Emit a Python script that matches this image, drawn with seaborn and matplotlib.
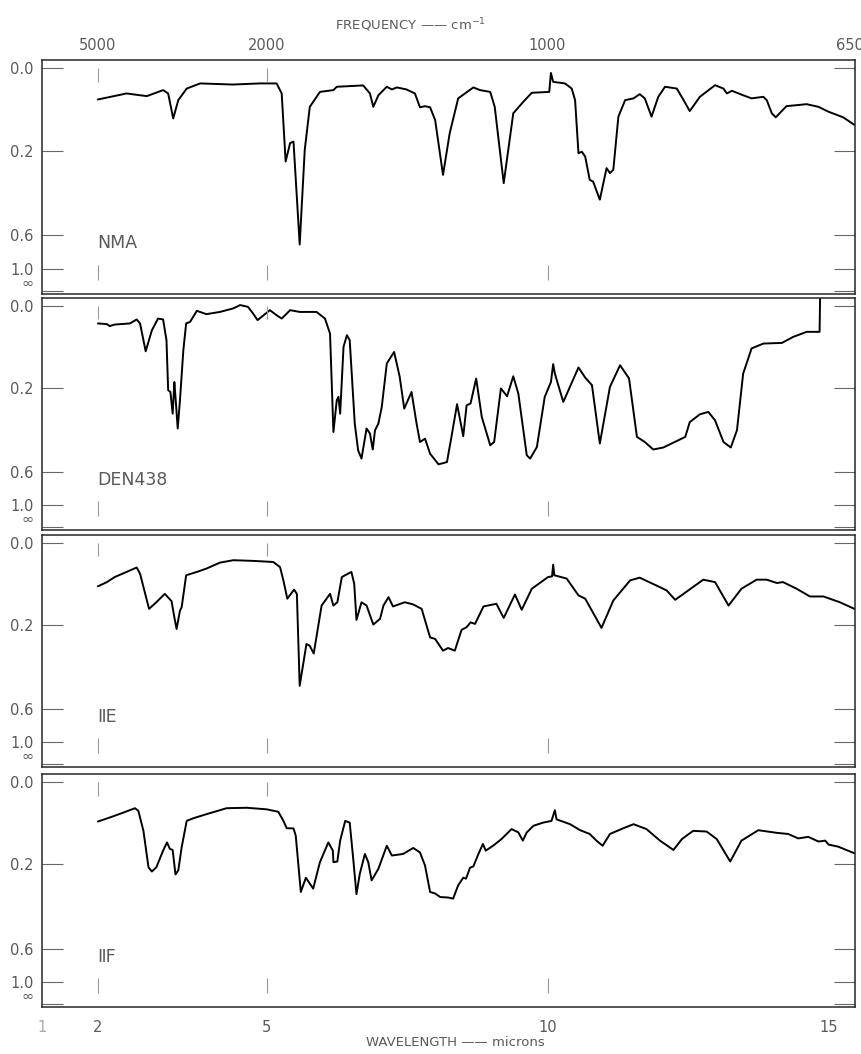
import numpy as np
import pandas as pd
import matplotlib
matplotlib.use("Agg")
import matplotlib.pyplot as plt
import seaborn as sns

# ---------------- data ----------------
# wavelength in microns, transmittance as a fraction (the axis is linear in T,
# labelled in absorbance)
nma_um = [2.00, 2.51, 2.87, 3.16, 3.25, 3.34, 3.43, 3.58, 3.82, 4.40, 4.88, 5.18, 5.27, 5.34, 5.42,
          5.48, 5.59, 5.68, 5.77, 5.95, 6.19, 6.25, 6.72, 6.84, 6.90, 6.99, 7.14, 7.23, 7.32, 7.49,
          7.64, 7.73, 7.82, 7.91, 8.00, 8.14, 8.26, 8.41, 8.68, 8.80, 8.98, 9.06, 9.22, 9.39, 9.57,
          9.72, 10.03, 10.06, 10.10, 10.31, 10.43, 10.49, 10.55, 10.61, 10.67, 10.75, 10.81, 10.93,
          11.05, 11.11, 11.17, 11.26, 11.38, 11.53, 11.64, 11.73, 11.85, 11.97, 12.09, 12.30, 12.42,
          12.53, 12.71, 12.98, 13.13, 13.19, 13.28, 13.48, 13.63, 13.84, 13.90, 13.99, 14.06, 14.25,
          14.61, 14.82, 15.00, 15.26, 15.46]
nma_T = [0.860, 0.887, 0.875, 0.902, 0.887, 0.775, 0.857, 0.909, 0.932, 0.927, 0.932, 0.932, 0.887,
         0.582, 0.665, 0.671, 0.210, 0.634, 0.827, 0.894, 0.902, 0.917, 0.923, 0.887, 0.827, 0.879,
         0.917, 0.905, 0.914, 0.905, 0.887, 0.825, 0.830, 0.825, 0.768, 0.522, 0.710, 0.865, 0.914,
         0.902, 0.894, 0.827, 0.485, 0.798, 0.850, 0.890, 0.894, 0.979, 0.939, 0.932, 0.909, 0.857,
         0.619, 0.626, 0.604, 0.500, 0.492, 0.411, 0.552, 0.530, 0.545, 0.783, 0.857, 0.865, 0.884,
         0.865, 0.783, 0.872, 0.917, 0.909, 0.857, 0.808, 0.872, 0.924, 0.909, 0.887, 0.899, 0.879,
         0.865, 0.872, 0.857, 0.798, 0.780, 0.830, 0.839, 0.827, 0.805, 0.780, 0.746]

den_um = [2.00, 2.16, 2.21, 2.30, 2.57, 2.69, 2.75, 2.85, 2.96, 3.07, 3.16, 3.22, 3.25, 3.29, 3.33,
          3.36, 3.38, 3.42, 3.46, 3.52, 3.57, 3.64, 3.76, 3.93, 4.17, 4.41, 4.53, 4.67, 4.76, 4.84,
          5.06, 5.18, 5.27, 5.42, 5.59, 5.89, 6.04, 6.13, 6.19, 6.25, 6.28, 6.31, 6.37, 6.43, 6.48,
          6.57, 6.63, 6.69, 6.78, 6.84, 6.89, 6.93, 6.99, 7.05, 7.14, 7.27, 7.37, 7.45, 7.58, 7.67,
          7.73, 7.82, 7.91, 8.06, 8.21, 8.29, 8.39, 8.50, 8.56, 8.63, 8.73, 8.83, 8.98, 9.05, 9.17,
          9.28, 9.39, 9.48, 9.63, 9.69, 9.81, 9.95, 10.06, 10.10, 10.13, 10.28, 10.55, 10.67, 10.79,
          10.93, 11.11, 11.29, 11.45, 11.59, 11.73, 11.88, 12.06, 12.45, 12.53, 12.71, 12.86, 12.98,
          13.13, 13.26, 13.37, 13.48, 13.63, 13.84, 14.17, 14.37, 14.61, 14.84, 14.85]
den_T = [0.922, 0.919, 0.910, 0.917, 0.922, 0.940, 0.922, 0.796, 0.891, 0.944, 0.940, 0.846, 0.620,
         0.612, 0.514, 0.657, 0.590, 0.447, 0.575, 0.801, 0.922, 0.929, 0.979, 0.964, 0.974, 0.990,
         1.005, 0.997, 0.967, 0.937, 0.982, 0.959, 0.944, 0.982, 0.974, 0.974, 0.944, 0.876, 0.431,
         0.575, 0.590, 0.514, 0.816, 0.869, 0.846, 0.469, 0.348, 0.311, 0.447, 0.424, 0.352, 0.439,
         0.469, 0.544, 0.741, 0.793, 0.680, 0.537, 0.612, 0.469, 0.386, 0.401, 0.333, 0.285, 0.295,
         0.409, 0.557, 0.412, 0.552, 0.560, 0.673, 0.499, 0.371, 0.386, 0.628, 0.593, 0.683, 0.605,
         0.326, 0.311, 0.363, 0.590, 0.657, 0.738, 0.695, 0.567, 0.723, 0.677, 0.643, 0.379, 0.635,
         0.733, 0.673, 0.409, 0.386, 0.352, 0.361, 0.409, 0.476, 0.511, 0.522, 0.484, 0.386, 0.361,
         0.439, 0.695, 0.809, 0.831, 0.834, 0.861, 0.884, 0.884, 1.060]

iie_um = [2.00, 2.16, 2.30, 2.51, 2.69, 2.75, 2.91, 3.04, 3.19, 3.31, 3.36, 3.40, 3.46, 3.49, 3.57,
          3.76, 3.93, 4.17, 4.41, 4.76, 5.12, 5.24, 5.30, 5.37, 5.49, 5.54, 5.59, 5.71, 5.77, 5.84,
          5.98, 6.13, 6.19, 6.26, 6.34, 6.51, 6.56, 6.60, 6.69, 6.78, 6.90, 7.02, 7.08, 7.17, 7.25,
          7.46, 7.61, 7.76, 7.91, 8.00, 8.14, 8.23, 8.35, 8.47, 8.56, 8.63, 8.71, 8.86, 9.09, 9.22,
          9.42, 9.54, 9.72, 10.01, 10.08, 10.10, 10.12, 10.34, 10.55, 10.67, 10.96, 11.17, 11.47,
          11.64, 12.00, 12.12, 12.27, 12.42, 12.77, 12.98, 13.22, 13.45, 13.72, 13.90, 14.08, 14.19,
          14.43, 14.67, 14.91, 15.20, 15.46]
iie_T = [0.805, 0.824, 0.847, 0.870, 0.890, 0.862, 0.703, 0.733, 0.771, 0.738, 0.665, 0.612, 0.695,
         0.710, 0.855, 0.870, 0.885, 0.912, 0.923, 0.920, 0.915, 0.892, 0.832, 0.749, 0.790, 0.771,
         0.355, 0.544, 0.536, 0.501, 0.718, 0.771, 0.718, 0.733, 0.847, 0.870, 0.817, 0.653, 0.733,
         0.718, 0.632, 0.658, 0.718, 0.756, 0.714, 0.733, 0.723, 0.703, 0.574, 0.567, 0.514, 0.526,
         0.514, 0.608, 0.620, 0.642, 0.635, 0.714, 0.726, 0.662, 0.768, 0.699, 0.794, 0.847, 0.850,
         0.903, 0.855, 0.840, 0.764, 0.749, 0.617, 0.741, 0.832, 0.844, 0.801, 0.786, 0.744, 0.771,
         0.835, 0.824, 0.718, 0.794, 0.835, 0.835, 0.820, 0.824, 0.794, 0.759, 0.759, 0.733, 0.703]

iif_um = [2.00, 2.21, 2.45, 2.66, 2.72, 2.81, 2.90, 2.96, 3.04, 3.16, 3.23, 3.28, 3.33, 3.38, 3.43,
          3.49, 3.58, 3.70, 3.93, 4.29, 4.65, 5.00, 5.21, 5.30, 5.36, 5.48, 5.52, 5.61, 5.70, 5.83,
          5.95, 6.10, 6.18, 6.19, 6.26, 6.31, 6.40, 6.48, 6.54, 6.60, 6.66, 6.75, 6.81, 6.87, 6.99,
          7.14, 7.23, 7.43, 7.61, 7.73, 7.82, 7.91, 8.00, 8.09, 8.23, 8.32, 8.41, 8.50, 8.55, 8.62,
          8.68, 8.77, 8.85, 8.90, 9.03, 9.18, 9.36, 9.48, 9.56, 9.63, 9.75, 9.92, 10.07, 10.13,
          10.16, 10.40, 10.58, 10.75, 10.87, 10.98, 11.11, 11.35, 11.53, 11.76, 12.00, 12.24, 12.39,
          12.59, 12.83, 13.01, 13.25, 13.45, 13.75, 14.08, 14.28, 14.46, 14.64, 14.82, 14.94, 15.00,
          15.17, 15.46]
iif_T = [0.823, 0.841, 0.863, 0.883, 0.871, 0.781, 0.617, 0.598, 0.617, 0.692, 0.729, 0.700, 0.695,
         0.585, 0.603, 0.707, 0.826, 0.838, 0.856, 0.883, 0.885, 0.878, 0.867, 0.826, 0.793, 0.792,
         0.759, 0.506, 0.570, 0.521, 0.640, 0.729, 0.692, 0.640, 0.643, 0.737, 0.826, 0.818, 0.662,
         0.496, 0.588, 0.677, 0.640, 0.558, 0.610, 0.714, 0.670, 0.677, 0.704, 0.684, 0.625, 0.506,
         0.499, 0.483, 0.481, 0.476, 0.536, 0.570, 0.566, 0.615, 0.621, 0.677, 0.722, 0.692, 0.714,
         0.744, 0.789, 0.774, 0.737, 0.774, 0.804, 0.818, 0.826, 0.874, 0.833, 0.811, 0.784, 0.767,
         0.737, 0.714, 0.767, 0.793, 0.811, 0.789, 0.737, 0.695, 0.744, 0.781, 0.778, 0.744, 0.643,
         0.737, 0.784, 0.772, 0.767, 0.747, 0.754, 0.733, 0.737, 0.719, 0.710, 0.680]

sample_names = ["NMA", "DEN438", "\u2161E", "\u2161F"]
series_um = [nma_um, den_um, iie_um, iif_um]
series_T = [nma_T, den_T, iie_T, iif_T]

abs_tick_values = [0.0, 0.2, 0.6, 1.0]
abs_tick_labels = ["0.0", "0.2", "0.6", "1.0", "\u221e"]
wl_ticks = [1, 2, 5, 10, 15]
wl_labels = ["1", "2", "5", "10", "15"]
freq_ticks = [5000, 2000, 1000, 650]
freq_labels = ["5000", "2000", "1000", "650"]
paper_marks_um = [2, 5, 10]

# ---------------- style ----------------
sns.set_style("white")
plt.rcParams["font.family"] = ["DejaVu Sans"]
TXT = "#5a5a5a"

W, H = 862, 1054
fig = plt.figure(figsize=(W / 100, H / 100), dpi=100)

# panel frames in pixels: (top, bottom)
frames = [(60, 294), (298, 530), (535, 767), (774, 1007)]
left_px, right_px = 41.7, 855

# transmittance positions of the absorbance ticks (infinity -> T = 0)
T_ticks = [10 ** (-a) for a in abs_tick_values] + [0.0]

axes = []
for i, (top, bot) in enumerate(frames):
    ax = fig.add_axes([left_px / W, 1 - bot / H, (right_px - left_px) / W, (bot - top) / H])
    axes.append(ax)
    df = pd.DataFrame({"wavelength": series_um[i], "T": series_T[i]})
    sns.lineplot(data=df, x="wavelength", y="T", ax=ax, color="black", lw=1.4,
                 sort=False, estimator=None)
    ax.set_xlim(1.0, 15.47)
    ax.set_ylim(-0.012, 1.037)
    ax.set_xlabel("")
    ax.set_ylabel("")
    for s in ax.spines.values():
        s.set_color("#262626")
        s.set_linewidth(1.1)
    ax.set_yticks(T_ticks)
    ax.set_yticklabels(abs_tick_labels)
    ax.tick_params(axis="y", which="major", direction="in", length=15, width=0.8,
                   color="#666666", labelcolor=TXT, labelsize=10.5, pad=6,
                   left=True, right=True)
    inf_lab = ax.get_yticklabels()[-1]
    inf_lab.set_fontsize(10.5)
    inf_lab.set_verticalalignment("bottom")
    ax.set_xticks(wl_ticks)
    ax.tick_params(axis="x", length=0)
    if i < 3:
        ax.set_xticklabels([])
    else:
        ax.set_xticklabels(wl_labels)
        ax.tick_params(axis="x", labelcolor=TXT, labelsize=10.5, pad=9)
        ax.get_xticklabels()[0].set_color("#aaaaaa")
    # chart-paper marks
    ax.vlines(paper_marks_um, 0.05, 0.12, color="#999999", lw=0.8)
    ax.vlines(paper_marks_um[:2], 0.94, 1.0, color="#999999", lw=0.8)
    # sample label
    ax.text(1.98, 0.215, sample_names[i], fontsize=12.5, color=TXT, va="center", ha="left",
            family=["DejaVu Sans"])


def um_to_cm(x):
    x = np.asarray(x, dtype=float)
    with np.errstate(divide="ignore"):
        return 1e4 / x


sec = axes[0].secondary_xaxis("top", functions=(um_to_cm, um_to_cm))
sec.set_xticks(freq_ticks)
sec.set_xticklabels(freq_labels)
sec.tick_params(length=0, pad=5, labelsize=10.5, labelcolor=TXT)
sec.spines["top"].set_visible(False)

fig.text(410 / W, 1 - 25 / H, "FREQUENCY \u2014\u2014 cm$^{-1}$", ha="center", va="center",
         fontsize=9.5, color=TXT)
fig.text(455 / W, 1 - 1043 / H, "WAVELENGTH \u2014\u2014 microns", ha="center", va="center",
         fontsize=9.5, color=TXT)

fig.savefig("out.png", dpi=100, facecolor="white")
